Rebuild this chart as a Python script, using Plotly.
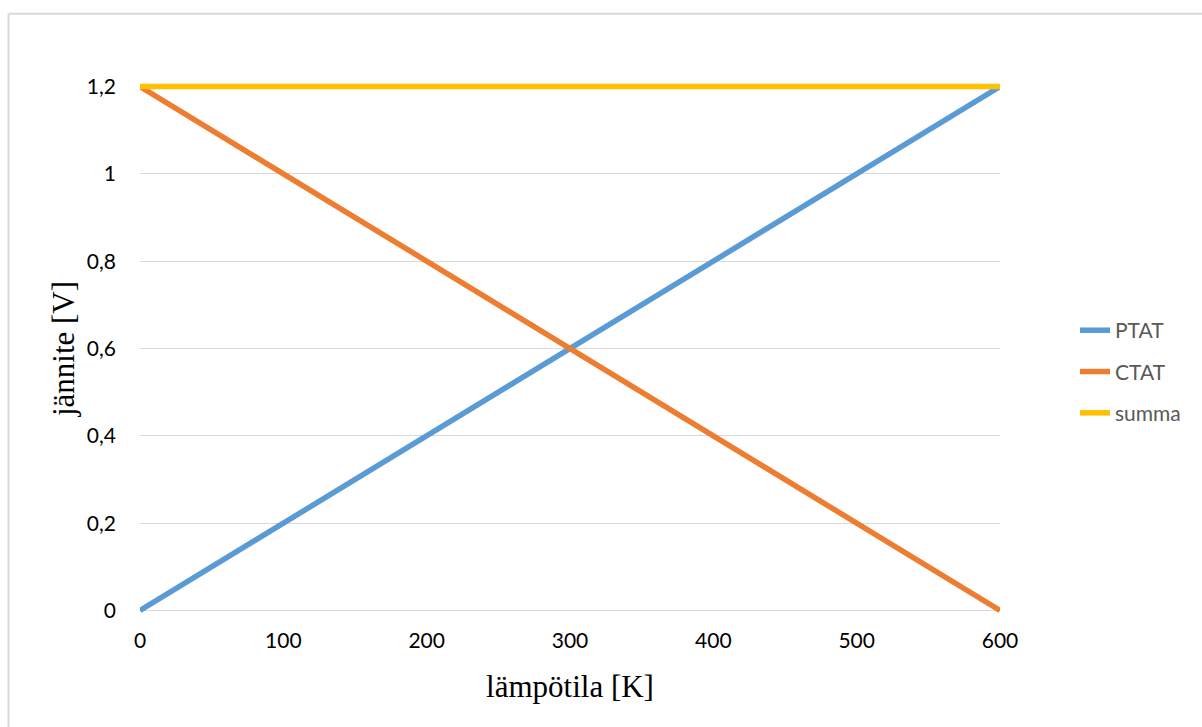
import plotly.graph_objects as go

# Temperature axis [K] and the three voltage curves [V]
temperature = [0, 600]
ptat = [0.0, 1.2]
ctat = [1.2, 0.0]
summa = [1.2, 1.2]

x_ticks = [0, 100, 200, 300, 400, 500, 600]
y_ticks = [0, 0.2, 0.4, 0.6, 0.8, 1.0, 1.2]
y_tick_text = ["0", "0,2", "0,4", "0,6", "0,8", "1", "1,2"]

W, H = 1202, 727
L, R, T, B = 140, 202, 82.5, 112.5
pw, ph = W - L - R, H - T - B


def px_x(px):
    return (px - L) / pw


def px_y(py):
    return (H - B - py) / ph


tick_font = dict(family="Lato, Open Sans, sans-serif", size=21, color="#000000")
title_font = dict(family="Liberation Serif, Times New Roman, serif", size=31, color="#000000")

fig = go.Figure()
series = [("PTAT", ptat, "#5B9BD5"), ("CTAT", ctat, "#ED7D31"), ("summa", summa, "#FFC000")]
for name, vals, color in series:
    fig.add_trace(go.Scatter(
        x=temperature, y=vals, name=name, mode="lines",
        line=dict(color=color, width=5.5),
        legendgroup=name,
    ))

fig.update_layout(
    width=W, height=H,
    margin=dict(l=L, r=R, t=T, b=B, pad=0),
    paper_bgcolor="white", plot_bgcolor="white",
    showlegend=True,
    legend=dict(
        x=px_x(1075), y=px_y(310), xanchor="left", yanchor="top",
        font=dict(family="Lato, Open Sans, sans-serif", size=21, color="#595959"),
        tracegroupgap=11, bgcolor="rgba(0,0,0,0)",
    ),
    xaxis=dict(
        range=[0, 600], tickvals=x_ticks, ticktext=[str(v) for v in x_ticks],
        showgrid=False, zeroline=False, showline=False, ticks="",
        tickfont=tick_font, ticklabelstandoff=12,
        title=dict(text="lämpötila [K]", font=title_font, standoff=24),
    ),
    yaxis=dict(
        range=[-0.008, 1.208], tickvals=y_ticks, ticktext=y_tick_text,
        showgrid=True, gridcolor="#D9D9D9", gridwidth=1.3,
        zeroline=True, zerolinecolor="#D9D9D9", zerolinewidth=1.3,
        showline=False, ticks="",
        tickfont=tick_font, ticklabelstandoff=23,
        title=dict(text="jännite [V]", font=title_font, standoff=3),
    ),
    shapes=[
        dict(type="line", xref="paper", yref="paper",
             x0=px_x(8.5), x1=px_x(1215), y0=px_y(13), y1=px_y(13),
             line=dict(color="#D9D9D9", width=2)),
        dict(type="line", xref="paper", yref="paper",
             x0=px_x(8.5), x1=px_x(8.5), y0=px_y(13), y1=px_y(740),
             line=dict(color="#D9D9D9", width=2)),
    ],
)

fig.write_html("out.html")
